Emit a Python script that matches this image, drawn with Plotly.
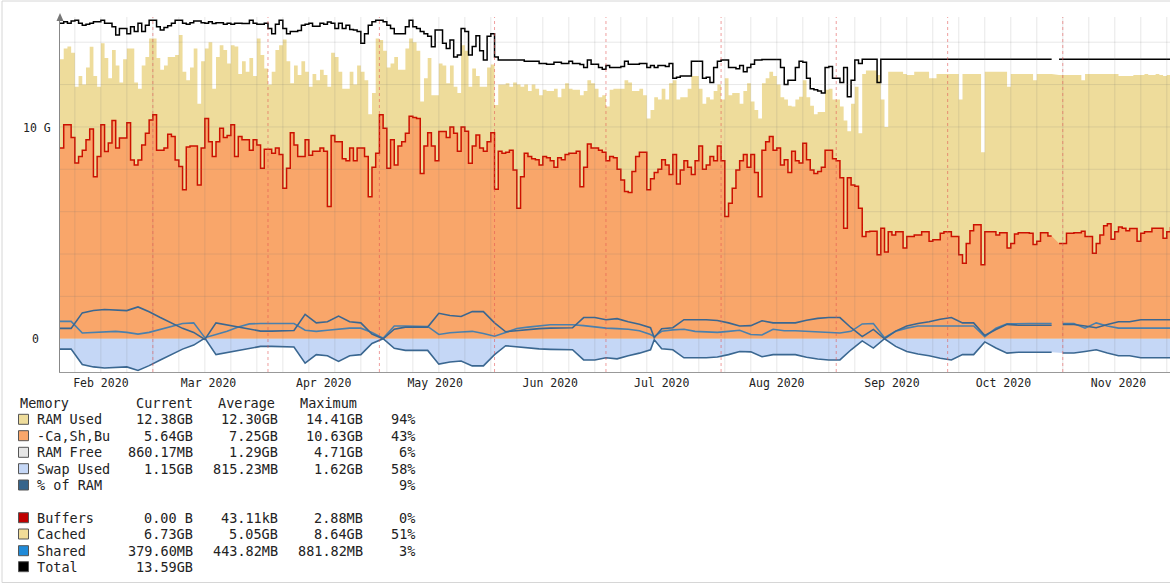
import pandas as pd
import plotly.graph_objects as go

# ---------------- data (GB, one value per day starting 2020-02-05) ----------------
start_date = "2020-02-05"

apps_used = [  # "-Ca,Sh,Bu" (red line / orange area)
    9.0, 10.1, 10.1, 9.5, 8.3, 8.6, 8.9, 9.4, 9.9, 7.65,
    8.6, 10.1, 8.84, 9.24, 10.3, 9.0, 9.48, 9.48, 10.2, 8.44,
    8.2, 8.44, 9.15, 9.7, 10.33, 10.57, 8.9, 8.9, 9.0, 9.65,
    9.55, 8.44, 8.13, 7.03, 9.05, 9.1, 9.1, 7.26, 9.0, 10.4,
    9.3, 8.6, 9.3, 9.94, 9.5, 9.6, 10.1, 8.6, 9.55, 9.4,
    9.4, 8.9, 9.4, 9.15, 8.05, 8.95, 8.95, 8.76, 9.0, 8.7,
    7.1, 8.05, 9.73, 9.15, 8.6, 8.6, 9.4, 8.66, 8.85, 8.85,
    9.0, 8.85, 6.24, 9.6, 9.3, 9.3, 8.5, 8.4, 9.0, 8.4,
    9.0, 9.0, 8.6, 6.7, 8.1, 8.76, 10.57, 9.94, 8.05, 9.4,
    8.2, 9.1, 9.3, 9.7, 10.5, 10.45, 10.4, 7.8, 9.1, 9.73,
    9.1, 8.4, 9.78, 9.78, 9.5, 10.0, 9.7, 8.85, 10.0, 9.8,
    8.28, 9.1, 9.62, 9.0, 8.85, 9.3, 9.73, 7.06, 8.85, 8.76,
    8.8, 8.9, 7.97, 6.16, 7.65, 8.76, 8.6, 8.5, 8.45, 8.2,
    8.6, 8.55, 8.4, 8.1, 8.55, 8.45, 8.7, 8.76, 8.76, 8.85,
    7.18, 8.1, 9.2, 9.0, 9.0, 8.9, 8.8, 8.4, 8.6, 8.55,
    8.0, 7.5, 6.95, 6.9, 7.9, 8.6, 8.8, 8.8, 7.03, 7.55,
    7.85, 8.0, 8.45, 8.2, 7.75, 8.7, 7.3, 7.97, 8.4, 8.1,
    7.75, 8.4, 9.1, 8.0, 8.2, 8.6, 8.4, 9.1, 8.4, 5.77,
    6.4, 7.1, 7.97, 8.4, 8.7, 8.1, 8.7, 7.85, 6.7, 8.9,
    9.3, 9.55, 8.9, 9.0, 8.2, 8.45, 7.85, 8.85, 8.4, 8.3,
    9.23, 8.45, 7.97, 7.8, 7.9, 8.1, 8.9, 8.9, 8.5, 8.4,
    7.6, 5.22, 7.6, 7.26, 7.2, 6.16, 4.83, 5.05, 5.07, 5.07,
    3.96, 5.22, 4.1, 5.05, 4.9, 5.05, 5.05, 4.28, 4.83, 4.83,
    4.9, 4.9, 5.05, 5.05, 4.6, 4.67, 4.67, 4.98, 5.05, 5.05,
    4.83, 4.83, 3.96, 3.57, 4.5, 5.1, 5.38, 5.38, 3.49, 5.05,
    5.05, 5.05, 4.9, 5.0, 5.0, 4.28, 4.5, 4.95, 5.0, 5.0,
    5.0, 4.98, 4.45, 4.6, 5.0, 5.0, 4.85, 4.85, None, 4.5,
    4.5, 4.98, 4.98, 5.0, 5.0, 5.07, 4.83, 4.83, 4.04, 4.5,
    4.9, 5.33, 5.43, 4.7, 5.05, 5.28, 5.22, 5.1, 5.2, 5.2,
    4.6, 4.98, 5.05, 5.05, 5.22, 5.22, 5.22, 4.75, 5.05, 5.28,
]

ram_used = [  # yellow area top
    13.2, 13.7, 13.8, 13.5, 11.9, 12.4, 12.0, 12.8, 13.79, 12.4,
    11.9, 13.95, 13.25, 12.3, 13.63, 12.9, 12.1, 13.2, 13.7, 13.7,
    12.1, 11.8, 12.9, 13.3, 14.18, 14.18, 13.25, 12.7, 12.9, 13.3,
    13.3, 13.4, 14.34, 12.6, 12.2, 12.8, 13.7, 11.1, 13.1, 13.7,
    14.0, 11.8, 13.3, 13.86, 13.63, 13.0, 13.86, 13.8, 12.5, 13.1,
    12.6, 13.25, 12.4, 14.18, 13.4, 12.76, 12.0, 12.6, 13.63, 13.86,
    14.13, 13.1, 12.06, 12.9, 12.45, 13.1, 12.6, 11.9, 12.5, 12.2,
    12.7, 12.45, 11.9, 13.5, 13.3, 12.6, 11.8, 11.8, 12.6, 12.0,
    12.9, 12.6, 12.2, 10.6, 11.6, 14.18, 14.1, 13.6, 12.8, 13.0,
    13.3, 12.7, 12.7, 13.7, 14.18, 14.0, 13.6, 11.2, 12.3, 13.25,
    11.5, 11.5, 13.0, 12.9, 12.06, 12.9, 11.9, 11.6, 13.86, 13.6,
    11.9, 12.76, 12.4, 11.9, 11.9, 12.8, 12.95, 11.04, 12.0, 12.0,
    12.06, 11.9, 12.1, 12.0, 11.9, 12.0, 11.7, 12.0, 11.8, 11.5,
    11.75, 11.7, 11.7, 11.8, 11.4, 11.8, 12.06, 11.8, 11.75, 11.75,
    11.5, 11.7, 12.2, 12.06, 11.8, 11.4, 11.5, 10.96, 11.75, 11.8,
    11.8, 11.8, 12.2, 12.1, 11.7, 11.7, 11.8, 11.5, 10.4, 10.8,
    11.4, 11.3, 11.8, 11.3, 12.06, 12.2, 11.3, 11.4, 11.4, 11.8,
    12.4, 12.4, 11.8, 11.1, 11.4, 11.3, 11.7, 12.0, 11.3, 12.3,
    11.5, 11.6, 11.6, 11.1, 11.7, 12.06, 11.2, 10.8, 10.4, 12.06,
    12.3, 12.6, 12.4, 12.0, 11.4, 11.3, 11.0, 10.96, 11.3, 11.43,
    12.2, 11.4, 11.0, 10.6, 10.7, 10.7, 11.75, 11.8, 11.3, 11.3,
    10.96, 10.3, 9.8, 11.1, 11.9, 9.7, 12.5, 12.66, 12.66, 12.66,
    12.45, 11.3, 10.0, 12.6, 12.6, 12.6, 12.6, 12.5, 12.45, 12.45,
    12.6, 12.6, 12.6, 12.6, 12.3, 12.3, 12.5, 12.5, 12.5, 12.5,
    12.5, 12.5, 11.3, 12.5, 12.5, 12.5, 12.5, 12.5, 8.8, 12.6,
    12.6, 12.6, 12.6, 12.6, 12.6, 11.9, 12.5, 12.5, 12.5, 12.5,
    12.5, 12.5, 12.2, 12.5, 12.5, 12.5, 12.5, 12.5, None, 12.45,
    12.45, 12.45, 12.45, 12.45, 12.45, 12.2, 12.5, 12.5, 12.5, 12.5,
    12.5, 12.5, 12.5, 12.5, 12.5, 12.4, 12.4, 12.4, 12.4, 12.45,
    12.45, 12.45, 12.5, 12.45, 12.45, 12.5, 12.45, 12.4, 12.45, 12.45,
]

total_mem = [  # black line
    14.9, 14.97, 14.9, 15.0, 15.04, 14.9, 14.8, 14.85, 14.9, 14.97,
    14.97, 15.04, 14.9, 14.9, 14.73, 14.34, 14.65, 14.65, 14.4, 14.73,
    14.5, 14.9, 14.5, 14.8, 15.04, 15.04, 14.73, 14.58, 14.7, 14.78,
    14.9, 15.04, 15.04, 14.9, 14.85, 14.92, 15.0, 15.0, 14.92, 14.9,
    14.97, 14.88, 14.92, 14.92, 14.85, 14.9, 14.85, 14.9, 14.9, 14.88,
    14.88, 15.04, 14.9, 14.85, 14.85, 14.9, 14.65, 14.4, 14.85, 15.04,
    14.65, 14.4, 14.5, 14.5, 14.55, 14.8, 14.85, 14.9, 14.75, 14.75,
    14.9, 14.85, 14.95, 14.9, 14.65, 14.9, 14.65, 14.8, 14.6, 14.58,
    14.5, 13.95, 14.4, 14.8, 14.97, 15.04, 15.04, 14.97, 14.8, 14.65,
    14.4, 14.4, 14.4, 14.73, 15.04, 14.73, 14.65, 14.5, 14.4, 14.28,
    13.79, 14.58, 14.58, 13.95, 13.7, 14.1, 13.3, 13.4, 14.65, 14.5,
    13.4, 13.8, 14.3, 13.6, 13.16, 14.28, 14.4, 13.3, 13.16, 13.16,
    13.16, 13.16, 13.16, 13.16, 13.16, 13.1, 13.1, 13.1, 13.1, 13.0,
    13.0, 12.96, 12.96, 13.05, 13.05, 13.0, 13.0, 13.1, 13.0, 13.0,
    12.95, 12.8, 13.16, 12.96, 12.96, 12.8, 12.72, 12.9, 12.8, 12.8,
    12.8, 12.85, 13.1, 12.96, 12.96, 12.96, 13.0, 13.0, 12.8, 12.9,
    12.8, 12.9, 12.9, 12.85, 13.0, 12.3, 12.35, 12.4, 12.4, 12.4,
    13.1, 13.1, 13.1, 12.3, 12.35, 12.1, 12.8, 13.1, 13.16, 13.16,
    12.8, 12.8, 12.75, 12.9, 12.6, 12.8, 12.96, 13.16, 13.16, 13.18,
    13.18, 13.18, 13.18, 13.18, 12.8, 12.0, 12.2, 12.2, 12.8, 13.1,
    13.05, 12.3, 11.8, 11.75, 11.7, 11.6, 12.8, 12.85, 12.3, 12.3,
    12.1, 12.8, 11.43, 12.2, 13.16, 13.0, 13.19, 13.19, 13.19, 13.19,
    12.1, 13.19, 13.19, 13.19, 13.19, 13.19, 13.19, 13.19, 13.19, 13.19,
    13.19, 13.19, 13.19, 13.19, 13.19, 13.19, 13.19, 13.19, 13.19, 13.19,
    13.19, 13.19, 13.19, 13.19, 13.19, 13.19, 13.19, 13.19, 13.19, 13.19,
    13.19, 13.19, 13.19, 13.19, 13.19, 13.19, 13.19, 13.19, 13.19, 13.19,
    13.19, 13.19, 13.19, 13.19, 13.19, 13.19, 13.19, 13.19, None, 13.19,
    13.19, 13.19, 13.19, 13.19, 13.19, 13.19, 13.19, 13.19, 13.19, 13.19,
    13.19, 13.19, 13.19, 13.19, 13.19, 13.19, 13.19, 13.19, 13.19, 13.19,
    13.19, 13.19, 13.19, 13.19, 13.19, 13.19, 13.19, 13.19, 13.19, 13.19,
]

# swap / ram-% lines sampled at these day offsets
blue_days = [
    0, 3, 6, 9, 12, 15, 18, 21, 24, 27, 30, 33, 36, 39, 42, 45, 48, 51, 54, 57,
    60, 63, 66, 69, 72, 75, 78, 81, 84, 87,
    90, 93, 96, 99, 102, 105, 108, 111, 114, 117, 120, 123, 126, 129, 132, 135, 138,
    141, 144, 147, 150, 153, 156, 159, 160, 162, 165, 168, 171, 174, 177, 180, 183,
    186, 189, 192, 195, 198,
    201, 204, 207, 210, 213, 216, 219, 222, 225, 228, 231, 234, 237, 240, 243, 246,
    249, 252, 255, 258, 261, 264, 267, 268, 270, 273, 276, 279, 282, 285, 288, 291,
    294, 297, 299,
]
swap_used = [  # plotted below zero
    -0.49, -0.49, -1.22, -1.33, -1.38, -1.35, -1.33, -1.5, -1.27, -1.0,
    -0.75, -0.49, -0.3, 0.03, -0.75, -0.65, -0.56, -0.44, -0.36, -0.36,
    -0.36, -0.39, -1.15, -0.75, -0.8, -1.07, -0.8, -0.75, -0.22, 0.0,
    -0.45, -0.55, -0.55, -0.55, -1.2, -1.1, -1.05, -1.28, -1.28, -0.75,
    -0.33, -0.38, -0.45, -0.48, -0.5, -0.52, -0.52, -1.0, -1.0, -0.9,
    -0.95, -0.8, -0.68, -0.52, -0.05, -0.47, -0.52, -0.9, -0.9, -0.9,
    -0.86, -0.75, -0.6, -0.62, -0.85, -0.75, -0.75, -0.75,
    -0.87, -0.96, -1.0, -1.0, -0.52, -0.1, -0.44, 0.0, -0.36, -0.6,
    -0.72, -0.8, -0.92, -1.0, -0.75, -0.75, -0.15, -0.44, -0.68, -0.64,
    -0.64, -0.64, -0.64, None, -0.67, -0.67, -0.6, -0.52, -0.67, -0.8,
    -0.8, -0.9, -0.9, -0.9, -0.9,
]
pct_ram = [
    0.82, 0.82, 0.27, 0.3, 0.33, 0.35, 0.3, 0.22, 0.3, 0.45,
    0.6, 0.72, 0.75, 0.05, 0.2, 0.35, 0.55, 0.7, 0.72, 0.72,
    0.72, 0.72, 0.4, 0.35, 0.4, 0.45, 0.5, 0.5, 0.3, 0.02,
    0.6, 0.6, 0.6, 0.58, 0.2, 0.28, 0.32, 0.35, 0.25, 0.12,
    0.3, 0.48, 0.55, 0.62, 0.66, 0.66, 0.66, 0.62, 0.55, 0.5,
    0.48, 0.45, 0.38, 0.2, 0.1, 0.35, 0.42, 0.45, 0.35, 0.33,
    0.3, 0.35, 0.4, 0.2, 0.18, 0.45, 0.38, 0.38,
    0.35, 0.3, 0.27, 0.27, 0.35, 0.7, 0.72, 0.05, 0.35, 0.5,
    0.6, 0.6, 0.6, 0.6, 0.6, 0.6, 0.1, 0.5, 0.7, 0.72,
    0.72, 0.72, 0.72, None, 0.72, 0.72, 0.5, 0.75, 0.6, 0.5,
    0.5, 0.5, 0.5, 0.5, 0.5,
]

month_labels = ["Feb 2020", "Mar 2020", "Apr 2020", "May 2020", "Jun 2020",
                "Jul 2020", "Aug 2020", "Sep 2020", "Oct 2020", "Nov 2020"]
month_label_dates = ["2020-02-16", "2020-03-16", "2020-04-16", "2020-05-16", "2020-06-16",
                     "2020-07-16", "2020-08-16", "2020-09-16", "2020-10-16", "2020-11-16"]
month_starts = ["2020-03-01", "2020-04-01", "2020-05-01", "2020-06-01", "2020-07-01",
                "2020-08-01", "2020-09-01", "2020-10-01", "2020-11-01"]

legend_rows = [
    ("RAM Used", "#eedc9b", "12.38GB", "12.30GB", "14.41GB", "94%"),
    ("-Ca,Sh,Bu", "#f9a66a", "5.64GB", "7.25GB", "10.63GB", "43%"),
    ("RAM Free", "#e6e6e6", "860.17MB", "1.29GB", "4.71GB", "6%"),
    ("Swap Used", "#c5d7f6", "1.15GB", "815.23MB", "1.62GB", "58%"),
    ("% of RAM", "#36648b", "", "", "", "9%"),
    None,
    ("Buffers", "#c00000", "0.00 B", "43.11kB", "2.88MB", "0%"),
    ("Cached", "#f1dc98", "6.73GB", "5.05GB", "8.64GB", "51%"),
    ("Shared", "#1f8ad8", "379.60MB", "443.82MB", "881.82MB", "3%"),
    ("Total", "#000000", "13.59GB", "", "", ""),
]

# ---------------- figure ----------------
W, H = 1170, 585
L, R, T, B = 60, 0, 17, 213
PW, PH = W - L - R, H - T - B
Y_MIN, Y_MAX = -1.57, 15.19


def px(x):
    return (x - L) / PW


def py(y):
    return (H - B - y) / PH


t0 = pd.Timestamp(start_date)
daily_x = [t0 + pd.Timedelta(days=i) for i in range(len(ram_used))]
apps_x = [t0 + pd.Timedelta(days=i) for i in range(len(apps_used))]
tot_x = [t0 + pd.Timedelta(days=i) for i in range(len(total_mem))]
blue_x = [t0 + pd.Timedelta(days=d) for d in blue_days]
x_end = t0 + pd.Timedelta(days=PW / 3.714)

fig = go.Figure()
fig.add_trace(go.Scatter(x=daily_x, y=ram_used, mode="lines", line=dict(width=0, shape="hv"),
                         fill="tozeroy", fillcolor="#eedc9b", hoverinfo="skip"))
fig.add_trace(go.Scatter(x=apps_x, y=apps_used, mode="lines",
                         line=dict(width=1.5, shape="hv", color="#cc1100"),
                         fill="tozeroy", fillcolor="#f9a66a", hoverinfo="skip"))
fig.add_trace(go.Scatter(x=blue_x, y=swap_used, mode="lines",
                         line=dict(width=1.6, color="#3a6791"),
                         fill="tozeroy", fillcolor="#c5d7f6", hoverinfo="skip"))
fig.add_trace(go.Scatter(x=blue_x, y=pct_ram, mode="lines",
                         line=dict(width=1.6, color="#4a80ad"), hoverinfo="skip"))
fig.add_trace(go.Scatter(x=blue_x, y=[None if v is None else -v for v in swap_used], mode="lines",
                         line=dict(width=1.6, color="#3a6791"), hoverinfo="skip"))
fig.add_trace(go.Scatter(x=tot_x, y=total_mem, mode="lines",
                         line=dict(width=1.5, shape="hv", color="#000000"), hoverinfo="skip"))

shapes = []
# weekly vertical grid (Sundays)
wk = pd.Timestamp("2020-02-09")
while wk <= x_end:
    shapes.append(dict(type="line", xref="x", yref="paper", x0=wk, x1=wk, y0=0, y1=1,
                       layer="above", line=dict(color="rgba(110,110,110,0.16)", width=1)))
    wk += pd.Timedelta(days=7)
# horizontal grid every 2 G
for g in range(2, 16, 2):
    shapes.append(dict(type="line", xref="paper", yref="y", x0=0, x1=1, y0=g, y1=g,
                       layer="above", line=dict(color="rgba(110,110,110,0.16)", width=1)))
# month boundaries
for m in month_starts:
    shapes.append(dict(type="line", xref="x", yref="paper", x0=m, x1=m, y0=0, y1=1,
                       layer="above", line=dict(color="rgba(225,80,80,0.55)", width=1, dash="dot")))
# y-axis arrow
shapes.append(dict(type="path", xref="paper", yref="paper",
                   path=f"M {px(56.5)} {py(21)} L {px(63.5)} {py(21)} L {px(60)} {py(13)} Z",
                   fillcolor="#777777", line=dict(width=0), layer="above"))
# outer frame
shapes.append(dict(type="rect", xref="paper", yref="paper", x0=px(2), x1=px(1200), y0=py(582.5), y1=py(1),
                   line=dict(color="#d6d6d6", width=1), fillcolor="rgba(0,0,0,0)", layer="below"))

annotations = []
font_small = dict(family="DejaVu Sans Mono", size=11.5, color="#222222")
font_leg = dict(family="DejaVu Sans Mono", size=13.5, color="#222222")
annotations.append(dict(x=px(53), y=py(128), xref="paper", yref="paper", text="10 G", showarrow=False,
                        xanchor="right", yanchor="middle", font=font_small))
annotations.append(dict(x=px(35), y=py(339), xref="paper", yref="paper", text="0", showarrow=False,
                        xanchor="center", yanchor="middle", font=font_small))

# legend table
row_y = [419.3, 435.7, 452.3, 468.7, 485.0, 501.3, 517.7, 534.0, 550.7, 566.7]
annotations.append(dict(x=px(18), y=py(403.3), xref="paper", yref="paper", text="Memory",
                        showarrow=False, xanchor="left", yanchor="middle", font=font_leg))
for hdr, xl in (("Current", 134), ("Average", 216), ("Maximum", 298)):
    annotations.append(dict(x=px(xl), y=py(403.3), xref="paper", yref="paper", text=hdr,
                            showarrow=False, xanchor="left", yanchor="middle", font=font_leg))
col_right = [195, 280, 365, 417]
for row, yy in zip(legend_rows, row_y):
    if row is None:
        continue
    name, color, cur, avg, mx, pct = row
    shapes.append(dict(type="rect", xref="paper", yref="paper", x0=px(18.5), x1=px(28.5),
                       y0=py(yy + 5), y1=py(yy - 5), fillcolor=color,
                       line=dict(color="#555555", width=1), layer="above"))
    annotations.append(dict(x=px(35), y=py(yy), xref="paper", yref="paper", text=name,
                            showarrow=False, xanchor="left", yanchor="middle", font=font_leg))
    for val, xr in zip((cur, avg, mx, pct), col_right):
        if val:
            annotations.append(dict(x=px(xr), y=py(yy), xref="paper", yref="paper", text=val,
                                    showarrow=False, xanchor="right", yanchor="middle", font=font_leg))

fig.update_layout(
    width=W, height=H,
    margin=dict(l=L, r=R, t=T, b=B, pad=0),
    paper_bgcolor="white", plot_bgcolor="white",
    showlegend=False,
    shapes=shapes, annotations=annotations,
    xaxis=dict(type="date", range=[t0, x_end], showgrid=False, zeroline=False,
               showline=True, linecolor="#999999", linewidth=1,
               tickmode="array", tickvals=month_label_dates, ticktext=month_labels,
               ticks="", tickfont=font_small, fixedrange=True),
    yaxis=dict(range=[Y_MIN, Y_MAX], showgrid=False, zeroline=False, showticklabels=False,
               showline=True, linecolor="#888888", linewidth=1, ticks="", fixedrange=True),
)

fig.write_html(
    "out.html",
    config={"displayModeBar": False},
    post_script="document.body.style.margin='0';document.body.style.overflow='hidden';",
)
